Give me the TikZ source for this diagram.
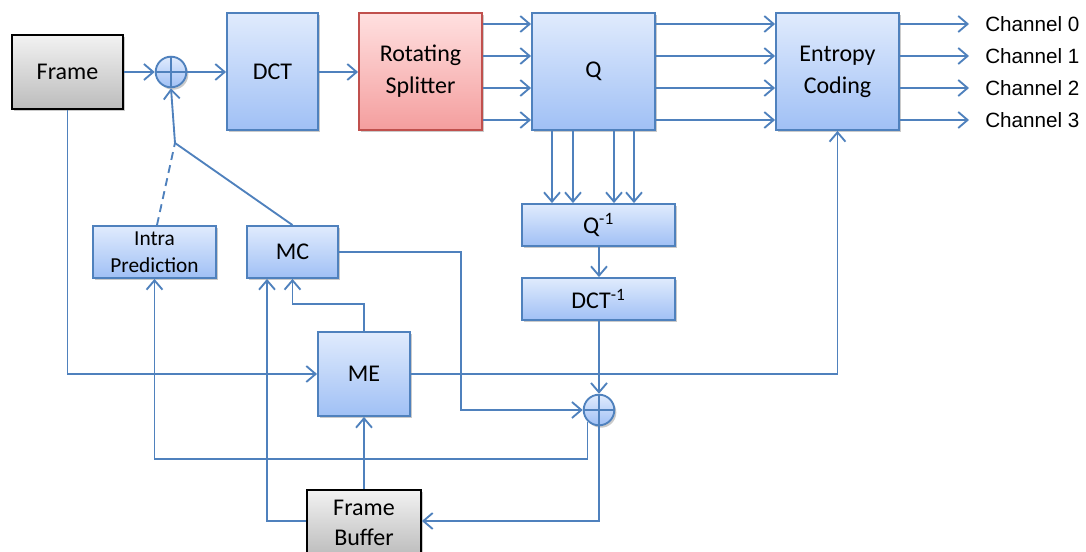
\documentclass[tikz,border=0pt]{standalone}
\usepackage{fontspec}
\setmainfont{Carlito}
\newfontfamily\arialf{Liberation Sans}
\usetikzlibrary{arrows.meta,shadows}
\definecolor{lineblue}{RGB}{79,129,189}
\definecolor{bluetop}{RGB}{224,235,253}
\definecolor{bluebot}{RGB}{160,192,245}
\definecolor{redtop}{RGB}{255,224,224}
\definecolor{redbot}{RGB}{244,158,158}
\definecolor{redline}{RGB}{192,80,77}
\definecolor{graytop}{RGB}{242,242,242}
\definecolor{graybot}{RGB}{188,188,188}
\tikzset{
  conn/.style={draw=lineblue, line width=1.4pt},
  arr/.style={conn, -{Straight Barb[length=7pt,width=12pt,line width=1.4pt]}},
  shad/.style={drop shadow={shadow xshift=1.5pt, shadow yshift=-1.8pt, opacity=0.35, fill=black!60}},
  area/.style n args={4}{minimum width={(#3-#1)*0.75pt}, minimum height={(#4-#2)*0.75pt}, at={({(#1+#3)/2},{(#2+#4)/2})}},
  bbox/.style={rectangle, draw=lineblue, line width=1.4pt, top color=bluetop, bottom color=bluebot, inner sep=0pt, align=center, shad, font=\fontsize{18}{24}\selectfont},
  rbox/.style={bbox, draw=redline, top color=redtop, bottom color=redbot},
  gbox/.style={bbox, draw=black, top color=graytop, bottom color=graybot},
  sbox/.style={bbox, font=\fontsize{16}{20}\selectfont},
  sumc/.style={circle, draw=lineblue, line width=1.4pt, top color=bluetop, bottom color=bluebot, minimum size=23pt, inner sep=0pt, shad,
    path picture={\draw[lineblue, line width=1.1pt] (path picture bounding box.north) -- (path picture bounding box.south) (path picture bounding box.west) -- (path picture bounding box.east);}},
  chan/.style={anchor=west, inner xsep=12pt, inner ysep=0pt, font=\arialf\fontsize{15.5}{18}\selectfont}
}
\newcommand{\supm}{$^{\mbox{\fontsize{13}{13}\selectfont -1}}$}
\begin{document}
\begin{tikzpicture}[x=0.75pt, y=-0.75pt]
\useasboundingbox (0,0) rectangle (1086,552);
% boxes
\node[gbox, area={12}{35}{123}{109}] (frame) {Frame};
\node[sumc] (sum1) at (171,72) {};
\node[bbox, area={227}{13}{318}{130}] (dct) {DCT};
\node[rbox, area={359}{13}{482}{130}] (split) {Rotating\\Splitter};
\node[bbox, area={532}{13}{655}{130}] (q) {Q};
\node[bbox, area={776}{13}{899}{130}] (ent) {Entropy\\Coding};
\node[bbox, area={522}{204}{675}{246}] (qi) {Q\supm};
\node[bbox, area={522}{278}{675}{320}] (dcti) {DCT\supm};
\node[sbox, area={93}{226}{216}{278}] (intra) {Intra\\Prediction};
\node[bbox, area={247}{226}{338}{278}] (mc) {MC};
\node[bbox, area={318}{332}{410}{416}] (me) {ME};
\node[sumc] (sum2) at (599,410) {};
\node[gbox, area={307}{490}{421}{556}, font=\fontsize{18}{23}\selectfont] (fb) {Frame\\Buffer};
\coordinate (j) at (175,143);
% channel labels
\node[chan] (c0) at (969,24) {Channel 0};
\node[chan] (c1) at (969,56) {Channel 1};
\node[chan] (c2) at (969,88) {Channel 2};
\node[chan] (c3) at (969,120) {Channel 3};
% top chain
\draw[arr] (frame.east |- sum1) -- (sum1.west);
\draw[arr] (sum1.east) -- (dct.west |- sum1);
\draw[arr] (dct.east |- 0,72) -- (split.west |- 0,72);
\foreach \y in {24,56,88,120} {
  \draw[arr] (split.east |- 0,\y) -- (q.west |- 0,\y);
  \draw[arr] (q.east |- 0,\y) -- (ent.west |- 0,\y);
}
\draw[arr] (ent.east |- c0) -- (c0.west);
\draw[arr] (ent.east |- c1) -- (c1.west);
\draw[arr] (ent.east |- c2) -- (c2.west);
\draw[arr] (ent.east |- c3) -- (c3.west);
% Q to Q^-1
\foreach \x in {552,573,614,634} {
  \draw[arr] (q.south -| \x,0) -- (qi.north -| \x,0);
}
\draw[arr] (qi.south -| sum2) -- (dcti.north -| sum2);
\draw[arr] (dcti.south -| sum2) -- (sum2.north);
% prediction into sum1
\draw[arr] (j) -- (sum1.south);
\draw[conn] (mc.north) -- (j);
\draw[conn, dashed, dash pattern=on 6pt off 4pt] (intra.north -| 157,0) -- (j);
% frame to ME
\draw[arr] (frame.south) |- (me.west);
% ME to entropy
\draw[arr] (me.east) -| (ent.south);
% ME to MC
\draw[arr] (me.north) -- (me.north |- 0,304) -| (mc.south);
% MC to sum2
\draw[arr] (mc.east) -| (461,410) -- (sum2.west);
% sum2 to intra
\draw[arr] (sum2.south west) -- (sum2.south west |- 0,459) -| (intra.south);
% sum2 to frame buffer
\draw[arr] (sum2.south) |- (fb.east |- 0,521);
% frame buffer to ME and MC
\draw[arr] (fb.north) -- (me.south);
\draw[arr] (fb.west |- 0,521) -| (mc.south -| 267,0);
\end{tikzpicture}
\end{document}
